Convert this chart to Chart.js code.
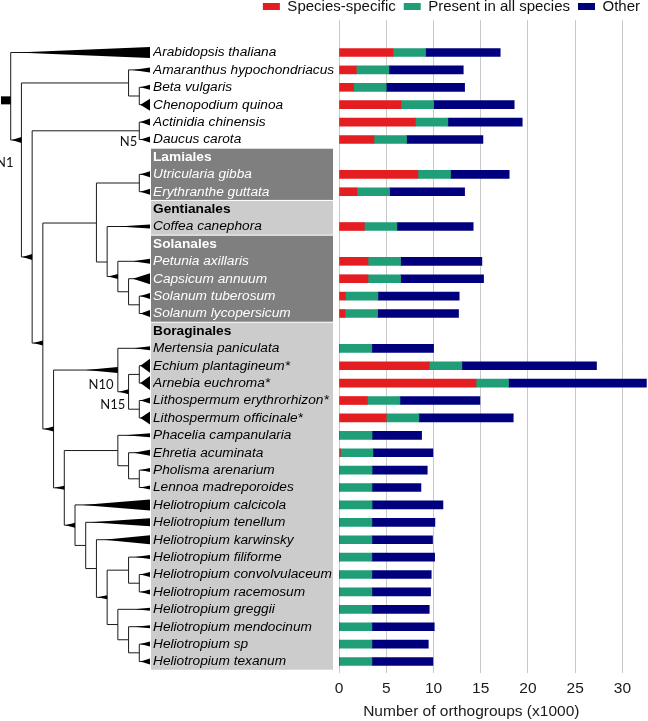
<!DOCTYPE html>
<html>
<head>
    <meta charset="utf-8"/>
    <title>Orthogroups per species</title>
    <script src="https://cdn.jsdelivr.net/npm/chart.js"></script>
    <style>
        body { margin: 0; background: #fff; }
        #wrap { position: relative; width: 648px; height: 721px; overflow: hidden; }
        #orthoChart { position: absolute; left: 0; top: -9px; }
    </style>
</head>
<body>
<div id="wrap"><canvas id="orthoChart" width="648" height="730"></canvas></div>

<script type="text/javascript">
    // Rows from top to bottom; order names are header rows without bars
    const rowLabels = [
        'Arabidopsis thaliana', 'Amaranthus hypochondriacus', 'Beta vulgaris', 'Chenopodium quinoa',
        'Actinidia chinensis', 'Daucus carota',
        'Lamiales', 'Utricularia gibba', 'Erythranthe guttata',
        'Gentianales', 'Coffea canephora',
        'Solanales', 'Petunia axillaris', 'Capsicum annuum', 'Solanum tuberosum', 'Solanum lycopersicum',
        'Boraginales', 'Mertensia paniculata', 'Echium plantagineum*', 'Arnebia euchroma*',
        'Lithospermum erythrorhizon*', 'Lithospermum officinale*', 'Phacelia campanularia',
        'Ehretia acuminata', 'Pholisma arenarium', 'Lennoa madreporoides',
        'Heliotropium calcicola', 'Heliotropium tenellum', 'Heliotropium karwinsky',
        'Heliotropium filiforme', 'Heliotropium convolvulaceum', 'Heliotropium racemosum',
        'Heliotropium greggii', 'Heliotropium mendocinum', 'Heliotropium sp', 'Heliotropium texanum'
    ];
    const orderHeaders = ['Lamiales', 'Gentianales', 'Solanales', 'Boraginales'];
    const darkOrders = ['Lamiales', 'Solanales'];

    // Number of orthogroups (x1000), null on header rows
    const speciesSpecific = [5.71, 1.83, 1.55, 6.56, 8.07, 3.70, null, 8.35, 1.90, null, 2.68,
        null, 3.07, 3.07, 0.67, 0.63, null, 0.02, 9.55, 14.49, 3.00, 5.00, 0.05, 0.14, 0.05, 0.04,
        0.05, 0.03, 0.03, 0.03, 0.03, 0.03, 0.03, 0.03, 0.03, 0.03];
    const presentInAll = [3.45, 3.45, 3.45, 3.45, 3.45, 3.45, null, 3.45, 3.45, null, 3.45,
        null, 3.45, 3.45, 3.45, 3.45, null, 3.45, 3.45, 3.45, 3.45, 3.45, 3.45, 3.45, 3.45, 3.45,
        3.45, 3.45, 3.45, 3.45, 3.45, 3.45, 3.45, 3.45, 3.45, 3.45];
    const other = [7.90, 7.87, 8.29, 8.53, 7.87, 8.08, null, 6.21, 7.94, null, 8.07,
        null, 8.60, 8.78, 8.60, 8.57, null, 6.54, 14.25, 14.59, 8.46, 9.99, 5.24, 6.35, 5.84, 5.18,
        7.50, 6.67, 6.42, 6.64, 6.28, 6.21, 6.07, 6.60, 5.97, 6.46];
    const xTicks = [0, 5, 10, 15, 20, 25, 30];

    // Cladogram: tip(name, wedge, wedgeLen) / clade(level, wedge, wedgeLen, children, row, label)
    // level 14 = tips; wedge = thickness of the tapered branch leading to the node
    const tip = (name, w, wl) => ({ name, w, wl });
    const clade = (lv, w, wl, kids, row, label) => ({ lv, w, wl, kids, row, label });

    const phylogeny = clade(1, 0, 0, [
        tip('Arabidopsis thaliana', 11, 12.5),
        clade(2, 6, 0.9, [
            clade(12, 0, 0, [
                tip('Amaranthus hypochondriacus', 5, 1.6),
                clade(13, 0, 0, [tip('Beta vulgaris', 5, 0.9), tip('Chenopodium quinoa', 12, 0.9)])
            ]),
            clade(3, 6, 0.9, [
                clade(13, 0, 0, [tip('Actinidia chinensis', 7, 0.9), tip('Daucus carota', 6, 0.9)], null, 'N5'),
                clade(4, 5, 0.9, [
                    clade(9, 0, 0, [
                        clade(13, 0, 0, [tip('Utricularia gibba', 6, 0.9), tip('Erythranthe guttata', 6, 0.9)]),
                        clade(10, 0, 0, [
                            tip('Coffea canephora', 4, 3),
                            clade(11, 5, 0.9, [
                                tip('Petunia axillaris', 5, 1.6),
                                clade(12, 0, 0, [
                                    tip('Capsicum annuum', 11, 1.6),
                                    clade(13, 0, 0, [tip('Solanum tuberosum', 6, 0.9), tip('Solanum lycopersicum', 7, 0.9)])
                                ])
                            ])
                        ], 12.04)
                    ], 9.8),
                    clade(5, 5, 0.9, [
                        clade(11, 6, 3, [
                            tip('Mertensia paniculata', 4, 1.5),
                            clade(12, 5, 0.9, [
                                clade(13, 0, 0, [tip('Echium plantagineum*', 14, 0.9), tip('Arnebia euchroma*', 14, 0.9)]),
                                clade(13, 0, 0, [tip('Lithospermum erythrorhizon*', 6, 0.9), tip('Lithospermum officinale*', 13, 0.9)], null, 'N15')
                            ], null, 'N10')
                        ]),
                        clade(6, 4, 0.9, [
                            clade(11, 0, 0, [
                                tip('Phacelia campanularia', 4, 2.3),
                                clade(12, 0, 0, [
                                    tip('Ehretia acuminata', 6, 1.5),
                                    clade(13, 0, 0, [tip('Pholisma arenarium', 4, 0.9), tip('Lennoa madreporoides', 4, 0.9)])
                                ])
                            ]),
                            clade(7, 5, 0.9, [
                                tip('Heliotropium calcicola', 11, 6.3),
                                clade(8, 0, 0, [
                                    tip('Heliotropium tenellum', 8, 5.6),
                                    clade(9, 0, 0, [
                                        tip('Heliotropium karwinsky', 9, 4.3),
                                        clade(10, 4, 0.9, [
                                            clade(12, 0, 0, [
                                                tip('Heliotropium filiforme', 4, 1.4),
                                                clade(13, 0, 0, [tip('Heliotropium convolvulaceum', 5, 0.9), tip('Heliotropium racemosum', 5, 0.9)])
                                            ]),
                                            clade(11, 0, 0, [
                                                tip('Heliotropium greggii', 3, 1.4),
                                                clade(12, 0, 0, [
                                                    tip('Heliotropium mendocinum', 3, 1.4),
                                                    clade(13, 0, 0, [tip('Heliotropium sp', 5, 0.9), tip('Heliotropium texanum', 6, 0.9)])
                                                ])
                                            ])
                                        ])
                                    ])
                                ])
                            ])
                        ])
                    ])
                ], 16.7)
            ], 11.75)
        ], 5.03, 'N1')
    ], 2.75);

    // where each node label sits relative to its node (right edge, middle)
    const nodeLabelOffsets = { N1: [-8, 23], N5: [-2, 11], N10: [-15, -7], N15: [-14, -4] };

    const FONT = '"Liberation Sans", Arial, Helvetica, sans-serif';
    Chart.defaults.font.family = FONT;

    const groupOfRow = [];
    let currentGroup = null;
    rowLabels.forEach((name, i) => {
        if (orderHeaders.includes(name)) currentGroup = name;
        groupOfRow[i] = currentGroup;
    });

    const makeData = values => rowLabels
        .map((name, i) => values[i] === null ? null : { x: values[i], y: i })
        .filter(d => d !== null);

    const tickRow = c => (c && c.tick ? c.tick.value : -1);

    // grey order boxes behind the labels, tree and axis title on top
    const treePlugin = {
        id: 'treePlugin',
        beforeLayout(chart) {
            // keep the legend strip short so the plot starts right under it
            const legend = chart.legend;
            if (legend && !legend._shortFit) {
                const fit = legend.fit;
                legend.fit = function () { fit.call(this); this.height = 29; };
                legend._shortFit = true;
            }
        },
        beforeDraw(chart) {
            const { ctx, chartArea } = chart;
            const y = chart.scales.y;
            ctx.save();
            orderHeaders.forEach((header, k) => {
                const start = rowLabels.indexOf(header);
                const end = k < orderHeaders.length - 1 ? rowLabels.indexOf(orderHeaders[k + 1]) - 1 : rowLabels.length - 1;
                const top = y.getPixelForValue(start - 0.5) + 0.5;
                const bottom = y.getPixelForValue(end + 0.5) - 0.5;
                const left = y.left - 2;
                ctx.fillStyle = darkOrders.includes(header) ? '#7f7f7f' : '#cccccc';
                ctx.fillRect(left, top, chartArea.left - 6 - left, bottom - top);
            });
            ctx.restore();
        },
        afterDraw(chart) {
            const { ctx, chartArea } = chart;
            const y = chart.scales.y;
            const x = chart.scales.x;
            const unit = (y.left - 3) / 14;
            const labelled = [];

            ctx.save();
            ctx.strokeStyle = '#1a1a1a';
            ctx.fillStyle = '#000';
            ctx.lineWidth = 1;

            function place(node) {
                if (!node.kids) {
                    return { x: 14 * unit, y: y.getPixelForValue(rowLabels.indexOf(node.name)), node };
                }
                const kids = node.kids.map(place);
                const ys = kids.map(k => k.y);
                const px = node.lv * unit;
                const py = node.row != null ? y.getPixelForValue(node.row) : (ys[0] + ys[ys.length - 1]) / 2;
                ctx.beginPath();
                ctx.moveTo(px, Math.min(...ys, py));
                ctx.lineTo(px, Math.max(...ys, py));
                ctx.stroke();
                kids.forEach(k => {
                    ctx.beginPath();
                    ctx.moveTo(px, k.y);
                    ctx.lineTo(k.x, k.y);
                    ctx.stroke();
                    if (k.node.w > 0) {
                        const x0 = Math.max(px, k.x - k.node.wl * unit);
                        ctx.beginPath();
                        ctx.moveTo(x0, k.y);
                        ctx.lineTo(k.x, k.y - k.node.w / 2);
                        ctx.lineTo(k.x, k.y + k.node.w / 2);
                        ctx.closePath();
                        ctx.fill();
                    }
                });
                if (node.label) labelled.push({ label: node.label, x: px, y: py });
                return { x: px, y: py, node };
            }

            const root = place(phylogeny);
            // root stem
            ctx.fillRect(1, root.y - 4, root.x - 1, 8);

            ctx.font = '13px Lato, "Liberation Sans", sans-serif';
            ctx.textAlign = 'right';
            ctx.textBaseline = 'middle';
            ctx.fillStyle = '#111';
            labelled.forEach(n => {
                const [dx, dy] = nodeLabelOffsets[n.label];
                ctx.fillText(n.label, n.x + dx, n.y + dy);
            });

            // x axis title
            ctx.font = '15.5px ' + FONT;
            ctx.textAlign = 'center';
            ctx.fillStyle = '#1a1a1a';
            ctx.fillText('Number of orthogroups (x1000)', x.getPixelForValue(14), chartArea.bottom + 38.7);
            ctx.restore();
        }
    };

    const ctx = document.getElementById('orthoChart').getContext('2d');
    const orthoChart = new Chart(ctx, {
        type: 'bar',
        data: {
            datasets: [{
                label: 'Species-specific',
                data: makeData(speciesSpecific),
                backgroundColor: '#e41d20'
            }, {
                label: 'Present in all species',
                data: makeData(presentInAll),
                backgroundColor: '#1f9e78'
            }, {
                label: 'Other',
                data: makeData(other),
                backgroundColor: '#00007f'
            }]
        },
        options: {
            indexAxis: 'y',
            responsive: false,
            animation: false,
            events: [],
            barThickness: 8,
            layout: { padding: { left: 153, right: 0, top: 0, bottom: 0 } },
            plugins: {
                legend: {
                    position: 'top',
                    align: 'end',
                    labels: {
                        boxWidth: 17,
                        boxHeight: 7,
                        padding: 8,
                        color: '#111',
                        font: { size: 15 }
                    }
                },
                tooltip: { enabled: false }
            },
            scales: {
                x: {
                    type: 'linear',
                    stacked: true,
                    min: 0,
                    max: 32.7,
                    afterBuildTicks: axis => { axis.ticks = xTicks.map(v => ({ value: v })); },
                    afterFit: axis => { axis.height = 48; },
                    grid: { color: '#c9c9c9', lineWidth: 1, drawTicks: false },
                    border: { display: false },
                    ticks: {
                        padding: 6,
                        color: '#1a1a1a',
                        font: { size: 15.5 }
                    }
                },
                y: {
                    type: 'linear',
                    stacked: true,
                    reverse: true,
                    offset: false,
                    min: -1.868,
                    max: 35.66,
                    afterBuildTicks: axis => { axis.ticks = rowLabels.map((_, i) => ({ value: i })); },
                    afterFit: axis => { axis.width = 186; },
                    grid: { display: false, offset: false },
                    border: { display: false },
                    ticks: {
                        autoSkip: false,
                        crossAlign: 'far',
                        padding: 0,
                        callback: value => rowLabels[value],
                        color: c => darkOrders.includes(groupOfRow[tickRow(c)]) ? '#ffffff' : '#000000',
                        font: c => {
                            const header = orderHeaders.includes(rowLabels[tickRow(c)]);
                            return { size: 13.7, style: header ? 'normal' : 'italic', weight: header ? 'bold' : 'normal' };
                        }
                    }
                }
            }
        },
        plugins: [treePlugin]
    });
</script>
</body>
</html>
